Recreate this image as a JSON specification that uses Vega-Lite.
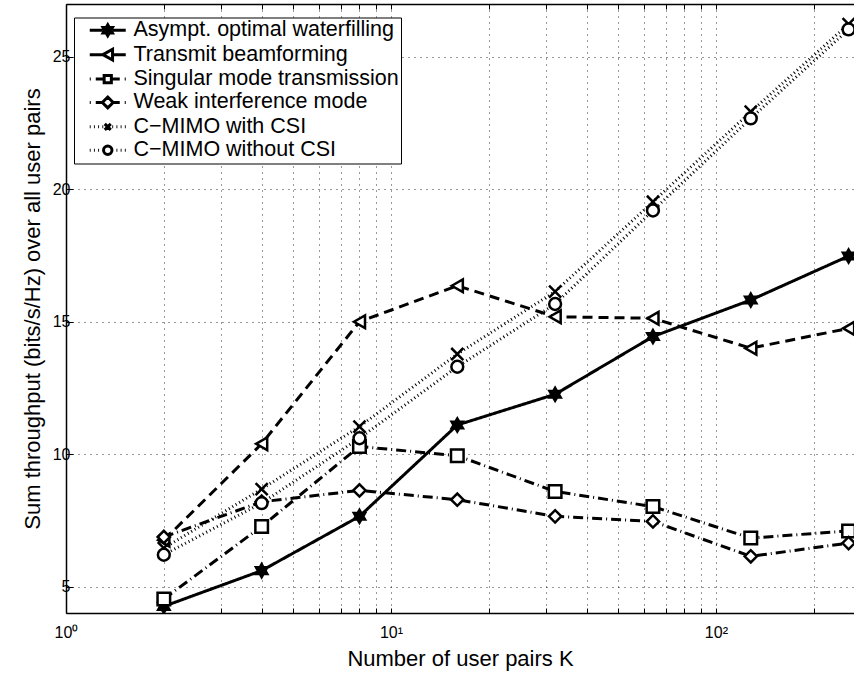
{
  "$schema": "https://vega.github.io/schema/vega-lite/v6.json",
  "width": 788,
  "height": 609,
  "autosize": {"type": "none"},
  "padding": {"left": 66, "top": 4, "right": 0, "bottom": 61},
  "background": "white",
  "config": {
    "font": "Liberation Sans",
    "view": {"stroke": null}
  },
  "data": {
    "values": [
      {"series": "Asympt. optimal waterfilling", "K": 2, "value": 4.25},
      {"series": "Asympt. optimal waterfilling", "K": 4, "value": 5.6},
      {"series": "Asympt. optimal waterfilling", "K": 8, "value": 7.65},
      {"series": "Asympt. optimal waterfilling", "K": 16, "value": 11.1},
      {"series": "Asympt. optimal waterfilling", "K": 32, "value": 12.26},
      {"series": "Asympt. optimal waterfilling", "K": 64, "value": 14.44},
      {"series": "Asympt. optimal waterfilling", "K": 128, "value": 15.82},
      {"series": "Asympt. optimal waterfilling", "K": 256, "value": 17.48},
      {"series": "Transmit beamforming", "K": 2, "value": 6.75},
      {"series": "Transmit beamforming", "K": 4, "value": 10.39},
      {"series": "Transmit beamforming", "K": 8, "value": 15.0},
      {"series": "Transmit beamforming", "K": 16, "value": 16.36},
      {"series": "Transmit beamforming", "K": 32, "value": 15.19},
      {"series": "Transmit beamforming", "K": 64, "value": 15.13},
      {"series": "Transmit beamforming", "K": 128, "value": 14.0},
      {"series": "Transmit beamforming", "K": 256, "value": 14.75},
      {"series": "Singular mode transmission", "K": 2, "value": 4.53},
      {"series": "Singular mode transmission", "K": 4, "value": 7.27},
      {"series": "Singular mode transmission", "K": 8, "value": 10.29},
      {"series": "Singular mode transmission", "K": 16, "value": 9.94},
      {"series": "Singular mode transmission", "K": 32, "value": 8.59},
      {"series": "Singular mode transmission", "K": 64, "value": 8.02},
      {"series": "Singular mode transmission", "K": 128, "value": 6.83},
      {"series": "Singular mode transmission", "K": 256, "value": 7.1},
      {"series": "Weak interference mode", "K": 2, "value": 6.87},
      {"series": "Weak interference mode", "K": 4, "value": 8.2},
      {"series": "Weak interference mode", "K": 8, "value": 8.63},
      {"series": "Weak interference mode", "K": 16, "value": 8.28},
      {"series": "Weak interference mode", "K": 32, "value": 7.65},
      {"series": "Weak interference mode", "K": 64, "value": 7.46},
      {"series": "Weak interference mode", "K": 128, "value": 6.14},
      {"series": "Weak interference mode", "K": 256, "value": 6.64},
      {"series": "C−MIMO with CSI", "K": 2, "value": 6.45},
      {"series": "C−MIMO with CSI", "K": 4, "value": 8.68},
      {"series": "C−MIMO with CSI", "K": 8, "value": 11.04},
      {"series": "C−MIMO with CSI", "K": 16, "value": 13.78},
      {"series": "C−MIMO with CSI", "K": 32, "value": 16.14},
      {"series": "C−MIMO with CSI", "K": 64, "value": 19.53},
      {"series": "C−MIMO with CSI", "K": 128, "value": 22.93},
      {"series": "C−MIMO with CSI", "K": 256, "value": 26.24},
      {"series": "C−MIMO without CSI", "K": 2, "value": 6.2},
      {"series": "C−MIMO without CSI", "K": 4, "value": 8.15},
      {"series": "C−MIMO without CSI", "K": 8, "value": 10.6},
      {"series": "C−MIMO without CSI", "K": 16, "value": 13.3},
      {"series": "C−MIMO without CSI", "K": 32, "value": 15.67},
      {"series": "C−MIMO without CSI", "K": 64, "value": 19.2},
      {"series": "C−MIMO without CSI", "K": 128, "value": 22.68},
      {"series": "C−MIMO without CSI", "K": 256, "value": 26.04}
    ]
  },
  "layer": [
    {
      "mark": {"type": "line", "color": "black", "clip": true},
      "encoding": {
        "x": {
          "field": "K", "type": "quantitative",
          "scale": {"type": "log", "domain": [1, 266], "nice": false},
          "axis": {
            "orient": "bottom",
            "values": [1, 2, 3, 4, 5, 6, 7, 8, 9, 10, 20, 30, 40, 50, 60, 70, 80, 90, 100, 200],
            "labelExpr": "datum.value == 1 ? '10⁰' : datum.value == 10 ? '10¹' : datum.value == 100 ? '10²' : ''",
            "labelFlush": false,
            "labelOverlap": false,
            "labelFontSize": 16,
            "labelColor": "black",
            "labelPadding": 16,
            "grid": true,
            "gridDash": [1, 5],
            "gridColor": "black",
            "gridOpacity": 0.8,
            "gridWidth": 1,
            "domainColor": "black",
            "domainWidth": 1.5,
            "tickColor": "black",
            "tickWidth": 1,
            "tickSize": -5,
            "title": "Number of user pairs K",
            "titleFontSize": 22,
            "titleFontWeight": "normal",
            "titleColor": "black",
            "titlePadding": 8
          }
        },
        "y": {
          "field": "value", "type": "quantitative",
          "scale": {"domain": [4, 27], "nice": false, "zero": false},
          "axis": {
            "orient": "left",
            "values": [5, 10, 15, 20, 25],
            "labelFontSize": 16,
            "labelColor": "black",
            "labelPadding": 3,
            "grid": true,
            "gridDash": [1, 5],
            "gridColor": "black",
            "gridOpacity": 0.8,
            "gridWidth": 1,
            "domainColor": "black",
            "domainWidth": 1.5,
            "tickColor": "black",
            "tickSize": -7,
            "title": "Sum throughput (bits/s/Hz) over all user pairs",
            "titleFontSize": 22,
            "titleFontWeight": "normal",
            "titleColor": "black",
            "titlePadding": 8
          }
        },
        "strokeDash": {
          "field": "series", "type": "nominal",
          "scale": {
            "domain": ["Asympt. optimal waterfilling", "Transmit beamforming", "Singular mode transmission", "Weak interference mode", "C−MIMO with CSI", "C−MIMO without CSI"],
            "range": [[1, 0], [10, 6], [10, 4, 1, 4], [10, 4, 1, 4], [1, 3], [1, 3]]
          },
          "legend": null
        },
        "strokeWidth": {
          "field": "series", "type": "nominal",
          "scale": {
            "domain": ["Asympt. optimal waterfilling", "Transmit beamforming", "Singular mode transmission", "Weak interference mode", "C−MIMO with CSI", "C−MIMO without CSI"],
            "range": [3, 3, 3, 3, 1, 1]
          },
          "legend": null
        }
      }
    },
    {
      "mark": {"type": "point", "stroke": "black", "strokeWidth": 2.5, "opacity": 1, "clip": true},
      "encoding": {
        "x": {
          "field": "K", "type": "quantitative",
          "axis": {
            "orient": "top",
            "values": [1, 2, 3, 4, 5, 6, 7, 8, 9, 10, 20, 30, 40, 50, 60, 70, 80, 90, 100, 200],
            "labels": false,
            "grid": false,
            "domainColor": "black",
            "domainWidth": 1.5,
            "tickColor": "black",
            "tickSize": -5,
            "title": null
          }
        },
        "y": {"field": "value", "type": "quantitative", "axis": null},
        "shape": {
          "field": "series", "type": "nominal",
          "scale": {
            "domain": ["Asympt. optimal waterfilling", "Transmit beamforming", "Singular mode transmission", "Weak interference mode", "C−MIMO with CSI", "C−MIMO without CSI"],
            "range": [
              "M0,-1L0.289,-0.5L0.866,-0.5L0.577,0L0.866,0.5L0.289,0.5L0,1L-0.289,0.5L-0.866,0.5L-0.577,0L-0.866,-0.5L-0.289,-0.5Z",
              "triangle-left",
              "square",
              "diamond",
              "M-1,-1L1,1M-1,1L1,-1",
              "circle"
            ]
          },
          "legend": null
        },
        "fill": {
          "field": "series", "type": "nominal",
          "scale": {
            "domain": ["Asympt. optimal waterfilling", "Transmit beamforming", "Singular mode transmission", "Weak interference mode", "C−MIMO with CSI", "C−MIMO without CSI"],
            "range": ["black", "white", "white", "white", "white", "white"]
          },
          "legend": null
        },
        "size": {
          "field": "series", "type": "nominal",
          "scale": {
            "domain": ["Asympt. optimal waterfilling", "Transmit beamforming", "Singular mode transmission", "Weak interference mode", "C−MIMO with CSI", "C−MIMO without CSI"],
            "range": [170, 140, 56, 130, 36, 80]
          },
          "legend": null
        }
      }
    },
    {
      "mark": {"type": "point", "opacity": 0, "size": 144},
      "encoding": {
        "x": {"field": "K", "type": "quantitative", "axis": null},
        "y": {"field": "value", "type": "quantitative", "axis": null},
        "shape": {
          "field": "series", "type": "nominal",
          "scale": {
            "domain": ["Asympt. optimal waterfilling", "Transmit beamforming", "Singular mode transmission", "Weak interference mode", "C−MIMO with CSI", "C−MIMO without CSI"],
            "range": [
              "M0.5,0H2.65M4.35,0H6.5M3.5,-0.9L3.76,-0.45L4.279,-0.45L4.02,0L4.279,0.45L3.76,0.45L3.5,0.9L3.24,0.45L2.721,0.45L2.98,0L2.721,-0.45L3.24,-0.45ZM3.02,0H3.98M3.5,-0.55V0.55",
              "M0.5,0H2.7M4.3,0H6.5M2.7,0L4.3,-0.9L4.3,0.9Z",
              "M0.5,0H0.67M1.5,0H2.9M4.1,0H5.5M6.33,0H6.5M2.9,-0.6H4.1V0.6H2.9Z",
              "M0.5,0H0.67M1.5,0H2.6M4.4,0H5.5M6.33,0H6.5M3.5,-0.9L4.4,0L3.5,0.9L2.6,0Z",
              "M0.5,0H0.65M1.2,0H1.35M1.9,0H2.05M2.6,0H2.75M4.25,0H4.4M4.95,0H5.1M5.65,0H5.8M6.35,0H6.5M3,-0.5L4,0.5M3,0.5L4,-0.5",
              "M0.5,0H0.65M1.2,0H1.35M1.9,0H2.05M4.95,0H5.1M5.65,0H5.8M6.35,0H6.5M4.2,0A0.7,0.7 0 1,1 2.8,0A0.7,0.7 0 1,1 4.2,0Z"
            ]
          },
          "legend": {
            "title": null,
            "orient": "none",
            "legendX": 8,
            "legendY": 13.5,
            "padding": 2,
            "strokeColor": "black",
            "fillColor": "white",
            "symbolSize": 144,
            "symbolStrokeColor": "black",
            "symbolStrokeWidth": 3,
            "symbolFillColor": "white",
            "symbolOpacity": 1,
            "labelFontSize": 21.5,
            "labelColor": "black",
            "labelOffset": 36,
            "labelLimit": 0,
            "rowPadding": 0.4
          }
        }
      }
    }
  ],
  "resolve": {
    "scale": {"shape": "independent", "size": "independent"},
    "legend": {"shape": "independent"},
    "axis": {"x": "independent", "y": "independent"}
  }
}
